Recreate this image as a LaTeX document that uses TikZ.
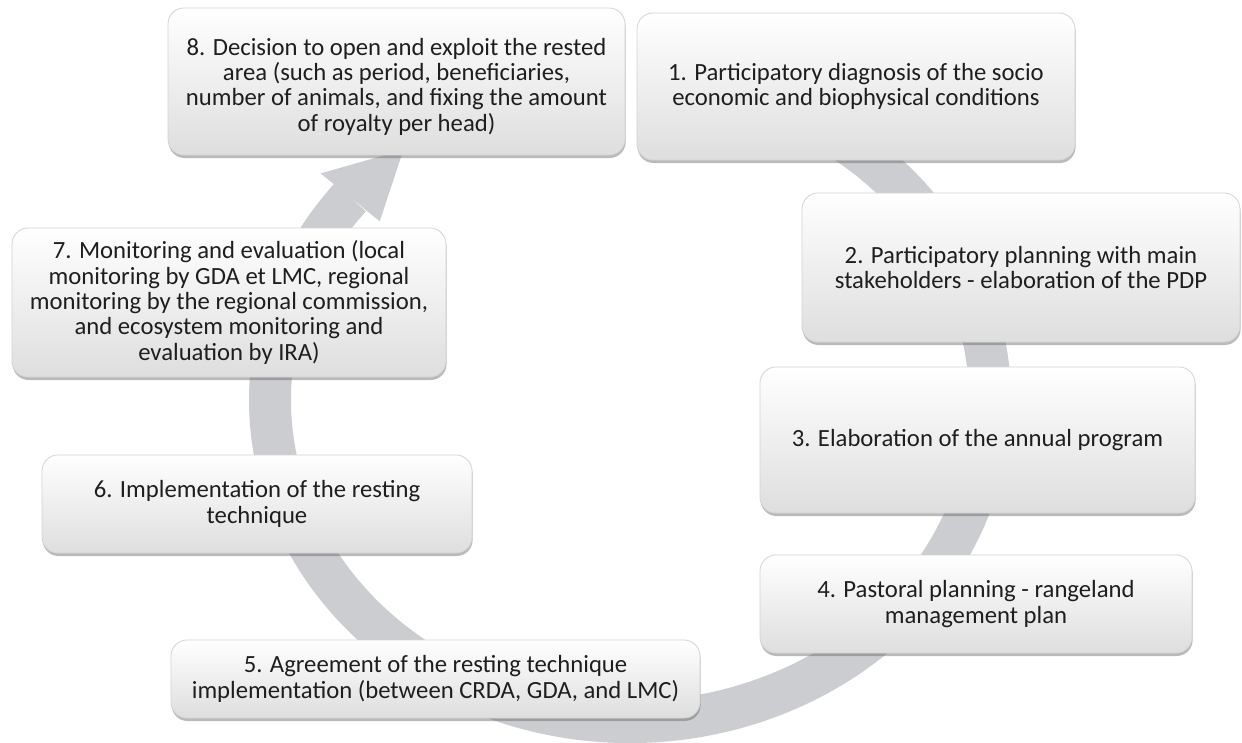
\documentclass[tikz,border=0pt]{standalone}
\usepackage{fontspec}
\setmainfont{Carlito}
\usetikzlibrary{shadows,calc}

\definecolor{bandgray}{HTML}{CBCDD0}
\definecolor{edgegray}{HTML}{D4D4D4}
\definecolor{inkgray}{HTML}{1E1E1E}
\newcommand\stagefont{\fontsize{24.7}{25.3}\selectfont}

\tikzset{
  stage/.style={
    rounded corners=16pt, draw=edgegray, line width=0.8pt,
    top color=white, middle color=black!3, bottom color=black!13,
    text=inkgray, align=center, inner sep=0pt, font=\stagefont,
    drop shadow={shadow xshift=0.6pt, shadow yshift=-3pt, opacity=0.45, fill=black!60}
  },
  stagetext/.style={text=inkgray, align=center, inner sep=0pt, font=\stagefont},
  band/.style={draw=bandgray, line width=42pt}
}

\begin{document}
\begin{tikzpicture}[x=1pt,y=1pt]
  \fill[white] (0,0) rectangle (1242,-742);
  \useasboundingbox (0,0) rectangle (1242,-742);

  % centre of the cycle arrow
  \coordinate (c) at (630,-400);

  % thick clockwise cycle arrow running behind the stages
  \draw[band] ($(c)+(65:360pt and 322pt)$)
      arc[start angle=65, end angle=-219, x radius=360pt, y radius=322pt];
  \fill[bandgray] ($(c)+(141:398pt and 360pt)$)
      -- ($(c)+(129:360pt and 322pt)$)
      -- ($(c)+(141:322pt and 284pt)$) -- cycle;

  % stages of the cycle
  \node[stage, minimum width=457pt, minimum height=147pt] (s8) at (396.5,-81.5) {};
  \node[stagetext] (s8t) at ($(s8.center)+(0,-5)$)
    {8. Decision to open and exploit the rested\\ area (such as period, beneficiaries,\\ number of animals, and fixing the amount\\ of royalty per head)};
  \node[stage, minimum width=438pt, minimum height=147pt] (s1) at (856,-86.5)
    {1. Participatory diagnosis of the socio\\ economic and biophysical conditions};
  \node[stage, minimum width=438pt, minimum height=149pt] (s2) at (1021,-267.5)
    {2. Participatory planning with main\\ stakeholders - elaboration of the PDP};
  \node[stage, minimum width=435pt, minimum height=146pt] (s3) at (977.5,-440)
    {3. Elaboration of the annual program};
  \node[stage, minimum width=432pt, minimum height=98pt] (s4) at (976,-604)
    {4. Pastoral planning - rangeland\\ management plan};
  \node[stage, minimum width=529pt, minimum height=78pt] (s5) at (435.5,-679)
    {5. Agreement of the resting technique\\ implementation (between CRDA, GDA, and LMC)};
  \node[stage, minimum width=430pt, minimum height=98pt] (s6) at (257,-504)
    {6. Implementation of the resting\\ technique};
  \node[stage, minimum width=434pt, minimum height=149pt] (s7) at (229,-302.5)
    {7. Monitoring and evaluation (local\\ monitoring by GDA et LMC, regional\\ monitoring by the regional commission,\\ and ecosystem monitoring and\\ evaluation by IRA)};
\end{tikzpicture}
\end{document}
